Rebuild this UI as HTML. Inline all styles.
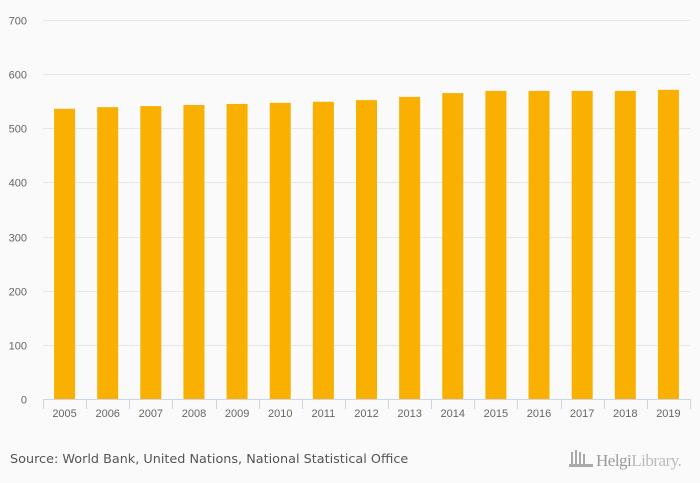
<!DOCTYPE html>
<html><head><meta charset="utf-8"><style>
body{margin:0;background:#fafafa;font-family:"Liberation Sans",sans-serif;}
svg{display:block}
</style></head><body>
<svg id="chart" width="700" height="483">
<rect width="700" height="483" fill="#fafafa"/>
<g id="grid"></g><g id="bars"></g><g id="axes"></g>
<text x="10" y="463" font-size="12.8" fill="#555" font-family="DejaVu Sans, sans-serif">Source: World Bank, United Nations, National Statistical Office</text>
<g>
<g fill="#aaa"><rect x="571" y="452" width="2" height="14"/><rect x="575" y="450" width="2" height="16"/><rect x="579" y="452" width="2" height="14"/><rect x="583" y="454" width="2" height="12"/><rect x="569" y="464" width="24" height="3"/></g>
<text x="596" y="466" font-size="17" fill="#999" font-family="Liberation Serif,serif" letter-spacing="-0.5">Helgi<tspan fill="#bbb">Library.</tspan></text>
</g>
</svg>
<script>
const categories=["2005","2006","2007","2008","2009","2010","2011","2012","2013","2014","2015","2016","2017","2018","2019"];
const values=[536,539,541,543,545,547,549,552,558,565,569,569,569,569,571];
const yTicks=[0,100,200,300,400,500,600,700];
const NS="http://www.w3.org/2000/svg";
const x0=43,x1=690,y0=399,yTop=20,yMax=700;
const bw=(x1-x0)/categories.length;
function yScale(v){return y0-(v/yMax)*(y0-yTop);}
function xCenter(i){return x0+bw*(i+0.5);}
function mk(tag,attrs,parent){const e=document.createElementNS(NS,tag);for(const k in attrs)e.setAttribute(k,attrs[k]);parent.appendChild(e);return e;}
const grid=document.getElementById('grid'),bars=document.getElementById('bars'),axes=document.getElementById('axes');
yTicks.forEach(t=>{
  const y=Math.round(yScale(t))+0.5;
  if(t>0){const l=mk('line',{x1:x0,x2:x1,y1:y,y2:y,stroke:'#e6e6e6','stroke-width':1},grid);
  
  }
  const tx=mk('text',{x:27,y:y+4,'text-anchor':'end','font-size':11,fill:'#666'},axes);
  tx.textContent=t;
  
  
});
values.forEach((v,i)=>{
  const w=21,cx=xCenter(i);
  const r=mk('rect',{x:cx-w/2,y:yScale(v),width:w,height:y0-yScale(v),fill:'#f9b000'},bars);
  
  
});
const ax=mk('line',{x1:x0,x2:x1,y1:y0+0.5,y2:y0+0.5,stroke:'#ccd6eb','stroke-width':1},axes);


for(let i=0;i<=categories.length;i++){
  const x=Math.round(x0+bw*i)+0.5;
  const tk=mk('line',{x1:x,x2:x,y1:y0,y2:y0+10,stroke:'#ccd6eb','stroke-width':1},axes);
  
  
}
categories.forEach((c,i)=>{
  const t=mk('text',{x:xCenter(i),y:417,'text-anchor':'middle','font-size':11,fill:'#666'},axes);
  t.textContent=c;
  
  
});
</script>
</body></html>
